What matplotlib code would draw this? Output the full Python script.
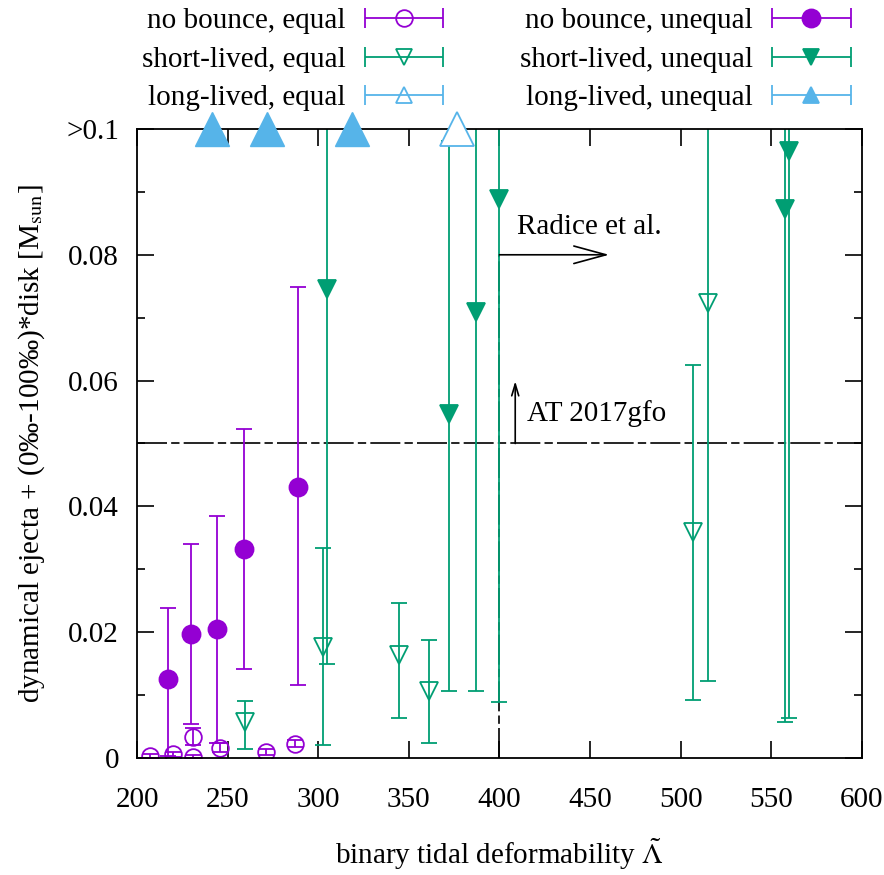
import numpy as np
import matplotlib.pyplot as plt
from matplotlib.lines import Line2D
from matplotlib.collections import LineCollection
from matplotlib.container import ErrorbarContainer
from matplotlib.legend_handler import HandlerErrorbar
from matplotlib.ticker import MultipleLocator, FixedLocator, FixedFormatter

plt.rcParams["font.family"] = ["Liberation Serif", "DejaVu Serif"]
plt.rcParams["mathtext.fontset"] = "stix"
plt.rcParams["font.size"] = 21

PURPLE = "#9400D3"
GREEN = "#009E73"
BLUE = "#56B4E9"

# no bounce, equal mass
nb_eq_lam = [207, 220, 231, 231, 246, 271, 287]
nb_eq_val = [0.0003, 0.0006, 0.0002, 0.0034, 0.0016, 0.0009, 0.0023]
nb_eq_lo = [0.0, 0.0002, 0.0, 0.0021, 0.0009, 0.0004, 0.0017]
nb_eq_hi = [0.0006, 0.0010, 0.0004, 0.0047, 0.0024, 0.0014, 0.0029]

# no bounce, unequal mass
nb_un_lam = [217, 230, 244, 259, 289]
nb_un_val = [0.0126, 0.0197, 0.0205, 0.0332, 0.0431]
nb_un_lo = [0.0003, 0.0054, 0.0024, 0.0141, 0.0116]
nb_un_hi = [0.0239, 0.0341, 0.0385, 0.0523, 0.0749]

# short-lived, equal mass (0.13 = runs off the top)
sl_eq_lam = [259.6, 302.5, 344.6, 361.2, 507, 515]
sl_eq_val = [0.0057, 0.0176, 0.0163, 0.0107, 0.036, 0.0723]
sl_eq_lo = [0.0014, 0.0021, 0.0064, 0.0024, 0.0093, 0.0122]
sl_eq_hi = [0.0090, 0.0334, 0.0246, 0.0187, 0.0625, 0.13]

# short-lived, unequal mass
sl_un_lam = [304.7, 372.4, 387.1, 399.8, 557.6, 559.5]
sl_un_val = [0.0746, 0.0547, 0.0709, 0.0889, 0.0872, 0.0965]
sl_un_lo = [0.0149, 0.0107, 0.0107, 0.0089, 0.0057, 0.0064]
sl_un_hi = [0.13, 0.0981, 0.13, 0.13, 0.13, 0.13]

# long-lived, shown at the ">0.1" edge
ll_eq_lam = [376.4]
ll_un_lam = [241.2, 271.9, 318.8]
TOP = 0.1

AT2017GFO = 0.05
RADICE_LAM = 400


def yerr(val, lo, hi):
    val, lo, hi = map(np.asarray, (val, lo, hi))
    return [val - lo, hi - val]


def legend_entry(color, marker, mfc, ms, label):
    line = Line2D([], [], color=color, marker=marker, mfc=mfc, mec=color,
                  ms=ms, mew=1.3, ls="none")
    cap = Line2D([], [], color=color, marker="|", ms=14, mew=1.3, ls="none")
    bar = LineCollection([], colors=color, linewidths=1.3)
    return ErrorbarContainer((line, (cap,), (bar,)), has_xerr=True,
                             has_yerr=False, label=label)


fig = plt.figure(figsize=(8.84, 8.75), dpi=100)
ax = fig.add_axes([0.155, 0.1337, 0.82, 0.7189])

ekw = dict(ls="none", capsize=6, elinewidth=1.3, capthick=1.3, mew=1.3)

ax.errorbar(nb_eq_lam, nb_eq_val, yerr=yerr(nb_eq_val, nb_eq_lo, nb_eq_hi),
            color=PURPLE, marker="o", ms=12, mfc="none", mec=PURPLE, **ekw)
ax.errorbar(nb_un_lam, nb_un_val, yerr=yerr(nb_un_val, nb_un_lo, nb_un_hi),
            color=PURPLE, marker="o", ms=13, **ekw)
ax.errorbar(sl_eq_lam, sl_eq_val, yerr=yerr(sl_eq_val, sl_eq_lo, sl_eq_hi),
            color=GREEN, marker="v", ms=13, mfc="none", mec=GREEN, **ekw)
ax.errorbar(sl_un_lam, sl_un_val, yerr=yerr(sl_un_val, sl_un_lo, sl_un_hi),
            color=GREEN, marker="v", ms=13, **ekw)

ax.plot(ll_un_lam, [TOP] * len(ll_un_lam), ls="none", marker="^", ms=24,
        color=BLUE, clip_on=False, zorder=5)
ax.plot(ll_eq_lam, [TOP] * len(ll_eq_lam), ls="none", marker="^", ms=24,
        mfc="white", mec=BLUE, mew=1.3, clip_on=False, zorder=5)

# reference lines
dash = (0, (18, 2.5, 5, 2.5))
ax.axhline(AT2017GFO, color="black", lw=1.2, ls=dash, zorder=1)
ax.plot([RADICE_LAM, RADICE_LAM], [0, 0.08], color="black", lw=1.2, ls=dash,
        zorder=1)
ax.annotate("", xy=(460.5, 0.08), xytext=(RADICE_LAM, 0.08),
            arrowprops=dict(arrowstyle="->,head_length=1.1,head_width=0.3",
                            color="black", lw=1.2, shrinkA=0, shrinkB=0))
ax.text(409.5, 0.0844, "Radice et al.", va="center", ha="left")
ax.annotate("", xy=(408.7, 0.0599), xytext=(408.7, AT2017GFO),
            arrowprops=dict(arrowstyle="->,head_length=0.4,head_width=0.12",
                            color="black", lw=1.2, shrinkA=0, shrinkB=0))
ax.text(415, 0.0547, "AT 2017gfo", va="center", ha="left")

ax.set_xlim(200, 600)
ax.set_ylim(0, 0.1)
ax.xaxis.set_major_locator(MultipleLocator(50))
ax.yaxis.set_major_locator(FixedLocator([0, 0.02, 0.04, 0.06, 0.08, 0.1]))
ax.yaxis.set_major_formatter(FixedFormatter(["0", "0.02", "0.04", "0.06", "0.08", ">0.1"]))
ax.yaxis.set_minor_locator(MultipleLocator(0.01))
ax.tick_params(which="both", direction="in", top=True, right=True, width=1.2)
ax.tick_params(which="major", length=12)
ax.tick_params(which="minor", length=6)
ax.tick_params(axis="x", pad=21)
ax.tick_params(axis="y", pad=13)
for s in ax.spines.values():
    s.set_linewidth(1.3)

ax.set_xlabel(r"binary tidal deformability $\tilde{\Lambda}$", labelpad=17)
ax.set_ylabel(r"dynamical ejecta + (0‰-100‰)*disk [M$_{\rm sun}$]", labelpad=14)

handles = [
    legend_entry(PURPLE, "o", "none", 12, "no bounce, equal"),
    legend_entry(GREEN, "v", "none", 11, "short-lived, equal"),
    legend_entry(BLUE, "^", "none", 12, "long-lived, equal"),
    legend_entry(PURPLE, "o", PURPLE, 13, "no bounce, unequal"),
    legend_entry(GREEN, "v", GREEN, 12, "short-lived, unequal"),
    legend_entry(BLUE, "^", BLUE, 12, "long-lived, unequal"),
]
fig.legend(handles=handles, ncol=2, loc="upper left",
           bbox_to_anchor=(142 / 884, 1 - 8 / 875), frameon=False,
           markerfirst=False, borderpad=0, borderaxespad=0, numpoints=1,
           handlelength=2.7, handletextpad=0.65, columnspacing=2.62,
           labelspacing=0.41,
           handler_map={ErrorbarContainer: HandlerErrorbar(xerr_size=1.35)})

fig.savefig("out.png", dpi=100)
